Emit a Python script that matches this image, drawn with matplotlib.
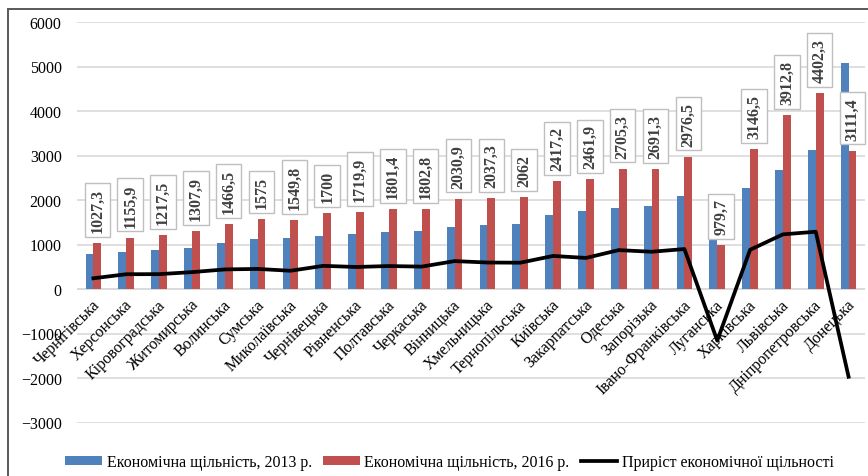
import numpy as np
import matplotlib
matplotlib.use("Agg")
import matplotlib.pyplot as plt
from matplotlib.patches import Rectangle

plt.rcParams['font.family'] = ['Liberation Serif', 'DejaVu Serif']

# regions of Ukraine, ordered as in the source chart
regions = ["Чернігівська", "Херсонська", "Кіровоградська", "Житомирська", "Волинська",
           "Сумська", "Миколаївська", "Чернівецька", "Рівненська", "Полтавська",
           "Черкаська", "Вінницька", "Хмельницька", "Тернопільська", "Київська",
           "Закарпатська", "Одеська", "Запорізька", "Івано-Франківська", "Луганська",
           "Харківська", "Львівська", "Дніпропетровська", "Донецька"]

# economic density 2013
dens_2013 = [786, 824, 884, 929, 1027, 1124, 1140, 1180, 1225, 1285, 1300, 1404,
             1442, 1471, 1674, 1764, 1831, 1854, 2079, 2140, 2265, 2685, 3115, 5083]
# economic density 2016 (labelled values)
dens_2016 = [1027.3, 1155.9, 1217.5, 1307.9, 1466.5, 1575, 1549.8, 1700, 1719.9, 1801.4,
             1802.8, 2030.9, 2037.3, 2062, 2417.2, 2461.9, 2705.3, 2691.3, 2976.5, 979.7,
             3146.5, 3912.8, 4402.3, 3111.4]
# growth of economic density
growth = [241, 332, 334, 379, 440, 451, 410, 520, 495, 516, 503, 627, 595, 591, 743,
          698, 874, 837, 898, -1160, 881, 1228, 1287, -1972]

blue = "#4F81BD"
red = "#C0504D"

fig = plt.figure(figsize=(8.68, 4.77), dpi=100)
ax = fig.add_axes([77 / 868, 1 - 423.5 / 477, (865 - 77) / 868, (423.5 - 23) / 477])

x = np.arange(len(regions))
w = 0.24
b1 = ax.bar(x - w / 2, dens_2013, w, color=blue, zorder=2,
            label="Економічна щільність, 2013 р.")
b2 = ax.bar(x + w / 2, dens_2016, w, color=red, zorder=2,
            label="Економічна щільність, 2016 р.")
ln, = ax.plot(x, growth, color="black", lw=2.7, zorder=5, solid_joinstyle="round",
              label="Приріст економічної щільності")

# value labels in boxes above 2016 bars
for i, v in enumerate(dens_2016):
    txt = f"{v:g}".replace(".", ",")
    ax.annotate(txt, (i + w / 2, v), xytext=(0, 11), textcoords="offset pixels",
                rotation=90, ha="center", va="bottom", fontsize=11.5, color="#404040",
                fontweight="bold", zorder=4,
                bbox=dict(boxstyle="square,pad=0.3", fc="white", ec="#BFBFBF", lw=1))

# category labels along the zero line
for i, name in enumerate(regions):
    ax.annotate(name, (i + 0.12, 0), xytext=(0, -13), textcoords="offset pixels",
                rotation=45, rotation_mode="anchor", ha="right", va="center",
                fontsize=11.5, color="black", zorder=3)

ax.set_xlim(-0.5, len(regions) - 0.5)
ax.set_ylim(-3000, 6000)
ax.set_yticks(np.arange(-3000, 6001, 1000))
ax.set_xticks([])
ax.tick_params(axis="y", length=0, pad=11, labelsize=11.5)
ax.grid(axis="y", color="#D9D9D9", lw=1.2, zorder=0)
for s in ax.spines.values():
    s.set_visible(False)
ax.axhline(0, color="#D9D9D9", lw=1.2, zorder=1)

fig.legend(handles=[b1, b2, ln], loc="center", bbox_to_anchor=(0.518, 1 - 463 / 477),
           ncol=3, frameon=False, fontsize=11.5, handlelength=2.3, handletextpad=0.3,
           columnspacing=0.7, handleheight=0.5)

# outer frame of the chart
fig.patches.append(Rectangle((8 / 868, -0.1), 1.2, 1 - 10 / 477 + 0.1, transform=fig.transFigure,
                             fill=False, ec="#595959", lw=1.4))

fig.savefig("out.png", dpi=100)
